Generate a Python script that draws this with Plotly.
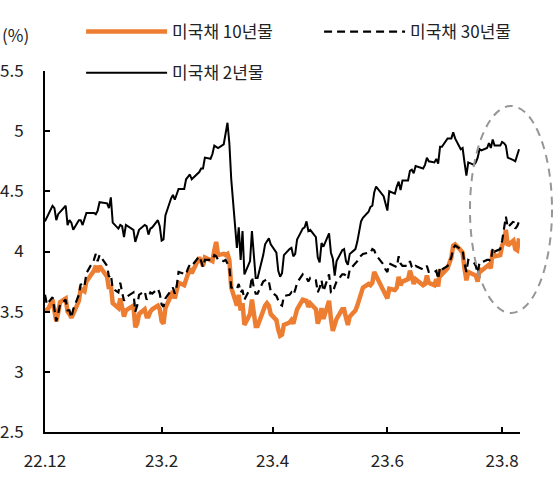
import pandas as pd
import plotly.graph_objects as go

# trading days, Dec 2022 - Aug 10 2023 (US bond market holidays removed)
holidays = ['2022-12-26', '2023-01-02', '2023-01-16', '2023-02-20',
            '2023-05-29', '2023-06-19', '2023-07-04']
dates = pd.bdate_range('2022-12-01', '2023-08-10', freq='C', holidays=holidays)

# US Treasury 2Y (%)
ust2y = [
    4.25, 4.28, 4.38, 4.36, 4.26, 4.31, 4.33, 4.38, 4.22, 4.26, 4.24, 4.18, 4.26, 4.26, 4.22, 4.28, 4.32, 4.32, 4.31, 4.34, 4.41,
    4.40, 4.36, 4.45, 4.24, 4.19, 4.22, 4.21, 4.12, 4.22, 4.18, 4.08, 4.14, 4.18, 4.22, 4.21, 4.14, 4.19, 4.20, 4.26, 4.21,
    4.09, 4.10, 4.30, 4.44, 4.47, 4.43, 4.48, 4.52, 4.52, 4.60, 4.62, 4.64, 4.60, 4.66, 4.69, 4.69, 4.78, 4.77, 4.81,
    4.88, 4.87, 4.86, 4.89, 5.00, 5.07, 4.90, 4.60, 4.03, 4.20, 3.93, 4.17, 3.81, 3.92, 4.17, 3.97, 3.78, 3.78, 3.97, 4.06, 4.08, 4.11, 4.06,
    3.99, 3.84, 3.79, 3.82, 3.97, 4.02, 4.03, 3.96, 3.98, 4.10, 4.19, 4.20, 4.25, 4.17, 4.18, 4.12, 3.95, 3.91, 4.07, 4.04,
    4.15, 3.99, 3.94, 3.80, 3.92, 4.01, 4.02, 3.92, 3.89, 3.98, 4.02, 4.08, 4.16, 4.25, 4.28, 4.33, 4.37, 4.38, 4.49, 4.54, 4.46, 4.40,
    4.34, 4.50, 4.48, 4.54, 4.58, 4.51, 4.59, 4.59, 4.67, 4.68, 4.65, 4.71, 4.69, 4.72, 4.78, 4.75, 4.74, 4.77, 4.73, 4.87, 4.87,
    4.94, 4.94, 4.99, 4.94, 4.85, 4.86, 4.74, 4.63, 4.74, 4.72, 4.74, 4.78, 4.85, 4.84, 4.86, 4.90, 4.86, 4.93, 4.88, 4.88,
    4.91, 4.90, 4.88, 4.78, 4.76, 4.75, 4.80, 4.85,
]

# US Treasury 10Y (%)
ust10y = [
    3.53, 3.50, 3.60, 3.53, 3.42, 3.49, 3.58, 3.61, 3.50, 3.48, 3.45, 3.48, 3.59, 3.69, 3.68, 3.67, 3.75, 3.84, 3.88, 3.83, 3.88,
    3.79, 3.69, 3.72, 3.57, 3.53, 3.61, 3.54, 3.46, 3.51, 3.55, 3.37, 3.40, 3.48, 3.52, 3.46, 3.46, 3.50, 3.52, 3.55, 3.52,
    3.42, 3.40, 3.53, 3.63, 3.67, 3.61, 3.66, 3.74, 3.72, 3.77, 3.81, 3.86, 3.82, 3.95, 3.92, 3.88, 3.95, 3.92, 3.92,
    4.01, 4.08, 3.97, 3.98, 3.97, 3.98, 3.93, 3.70, 3.55, 3.64, 3.51, 3.57, 3.39, 3.48, 3.60, 3.48, 3.38, 3.38, 3.53, 3.55, 3.57, 3.55, 3.48,
    3.43, 3.35, 3.30, 3.31, 3.39, 3.41, 3.43, 3.40, 3.45, 3.52, 3.60, 3.59, 3.59, 3.54, 3.57, 3.52, 3.40, 3.45, 3.53, 3.44,
    3.59, 3.44, 3.34, 3.39, 3.44, 3.52, 3.52, 3.45, 3.39, 3.46, 3.51, 3.55, 3.59, 3.65, 3.70, 3.73, 3.72, 3.74, 3.83, 3.80, 3.69, 3.64,
    3.61, 3.69, 3.68, 3.70, 3.79, 3.72, 3.75, 3.77, 3.84, 3.79, 3.73, 3.77, 3.72, 3.73, 3.80, 3.74, 3.72, 3.77, 3.71, 3.85, 3.81,
    3.86, 3.95, 4.05, 4.06, 4.01, 3.99, 3.86, 3.76, 3.83, 3.81, 3.80, 3.75, 3.85, 3.84, 3.87, 3.89, 3.86, 4.01, 3.96, 3.97,
    4.05, 4.08, 4.18, 4.05, 4.09, 4.02, 4.01, 4.11,
]

# US Treasury 30Y (%)
ust30y = [
    3.64, 3.56, 3.62, 3.52, 3.42, 3.48, 3.56, 3.60, 3.51, 3.51, 3.45, 3.52, 3.64, 3.73, 3.71, 3.71, 3.82, 3.93, 3.98, 3.92, 3.97,
    3.88, 3.79, 3.81, 3.69, 3.66, 3.74, 3.66, 3.59, 3.62, 3.66, 3.50, 3.55, 3.64, 3.67, 3.60, 3.62, 3.66, 3.65, 3.69, 3.65,
    3.56, 3.54, 3.61, 3.68, 3.70, 3.65, 3.71, 3.83, 3.81, 3.81, 3.86, 3.89, 3.88, 3.96, 3.92, 3.87, 3.93, 3.93, 3.93,
    3.97, 3.96, 3.93, 3.92, 3.93, 3.90, 3.87, 3.70, 3.69, 3.73, 3.66, 3.68, 3.60, 3.69, 3.79, 3.70, 3.65, 3.65, 3.75, 3.76, 3.77, 3.75, 3.67,
    3.63, 3.59, 3.56, 3.55, 3.63, 3.64, 3.66, 3.64, 3.68, 3.74, 3.81, 3.79, 3.78, 3.75, 3.78, 3.76, 3.66, 3.70, 3.76, 3.67,
    3.81, 3.66, 3.66, 3.71, 3.75, 3.81, 3.81, 3.80, 3.77, 3.85, 3.90, 3.92, 3.95, 3.97, 3.98, 3.99, 3.99, 4.02, 4.01, 3.97, 3.89, 3.85,
    3.83, 3.90, 3.88, 3.87, 3.96, 3.90, 3.88, 3.88, 3.92, 3.87, 3.86, 3.88, 3.85, 3.86, 3.88, 3.83, 3.83, 3.84, 3.77, 3.87, 3.85,
    3.88, 3.95, 4.03, 4.05, 4.02, 4.01, 3.90, 3.83, 3.93, 3.91, 3.88, 3.82, 3.91, 3.91, 3.93, 3.93, 3.92, 4.03, 4.00, 4.02,
    4.09, 4.18, 4.29, 4.20, 4.25, 4.19, 4.21, 4.25,
]

tick_dates = ['2022-12-01', '2023-02-01', '2023-04-01', '2023-06-01', '2023-08-01']
tick_labels = ['22.12', '23.2', '23.4', '23.6', '23.8']

assert len(dates) == len(ust2y) == len(ust10y) == len(ust30y)

font_kr = 'Noto Sans CJK KR'

fig = go.Figure()

fig.add_trace(go.Scatter(
    x=dates, y=ust10y, mode='lines', name='미국채 10년물',
    line=dict(color='rgb(237,125,49)', width=4.5),
    legend='legend', showlegend=True,
))
fig.add_trace(go.Scatter(
    x=dates, y=ust30y, mode='lines', name='미국채 30년물',
    line=dict(color='black', width=2.2, dash='8px,5px'),
    legend='legend2', showlegend=True,
))
fig.add_trace(go.Scatter(
    x=dates, y=ust2y, mode='lines', name='미국채 2년물',
    line=dict(color='black', width=2),
    legend='legend3', showlegend=True,
))

legend_style = dict(
    orientation='h', itemwidth=81, xanchor='left', yanchor='middle',
    bgcolor='rgba(0,0,0,0)', font=dict(family=font_kr, size=17, color='#222'),
)

fig.update_layout(
    width=554, height=483,
    margin=dict(l=45, r=34, t=71, b=51, autoexpand=False),
    paper_bgcolor='white', plot_bgcolor='white',
    showlegend=True,
    font=dict(family=font_kr, size=17, color='#222'),
    legend=dict(x=0.076, y=1.108, **legend_style),
    legend2=dict(x=0.577, y=1.108, **legend_style),
    legend3=dict(x=0.076, y=0.994, **legend_style),
    xaxis=dict(
        type='date', range=['2022-12-01', '2023-08-10 12:00'],
        tickvals=tick_dates, ticktext=tick_labels,
        ticks='inside', ticklen=5, tickwidth=2, tickcolor='black',
        showline=True, linecolor='black', linewidth=2,
        showgrid=False, zeroline=False, ticklabelstandoff=13,
        tickfont=dict(size=17),
    ),
    yaxis=dict(
        range=[2.5, 5.5], dtick=0.5,
        ticks='inside', ticklen=5, tickwidth=2, tickcolor='black',
        showline=True, linecolor='black', linewidth=2,
        showgrid=False, zeroline=False, ticklabelstandoff=16,
        tickfont=dict(size=17),
    ),
    annotations=[dict(
        text='(%)', xref='paper', yref='paper', x=-0.094, y=1.1,
        xanchor='left', yanchor='middle', showarrow=False,
        font=dict(family=font_kr, size=17, color='#222'),
    )],
    shapes=[dict(
        type='circle', xref='paper', yref='paper',
        x0=0.8947, x1=1.0674, y0=0.3296, y1=0.903,
        line=dict(color='rgb(150,150,150)', width=2, dash='8px,6px'),
    )],
)

# drop the browser's default 8px body margin so the figure sits at the page origin
fig.write_html('out.html', config={'displayModeBar': False},
               post_script="document.body.style.margin='0px';")
